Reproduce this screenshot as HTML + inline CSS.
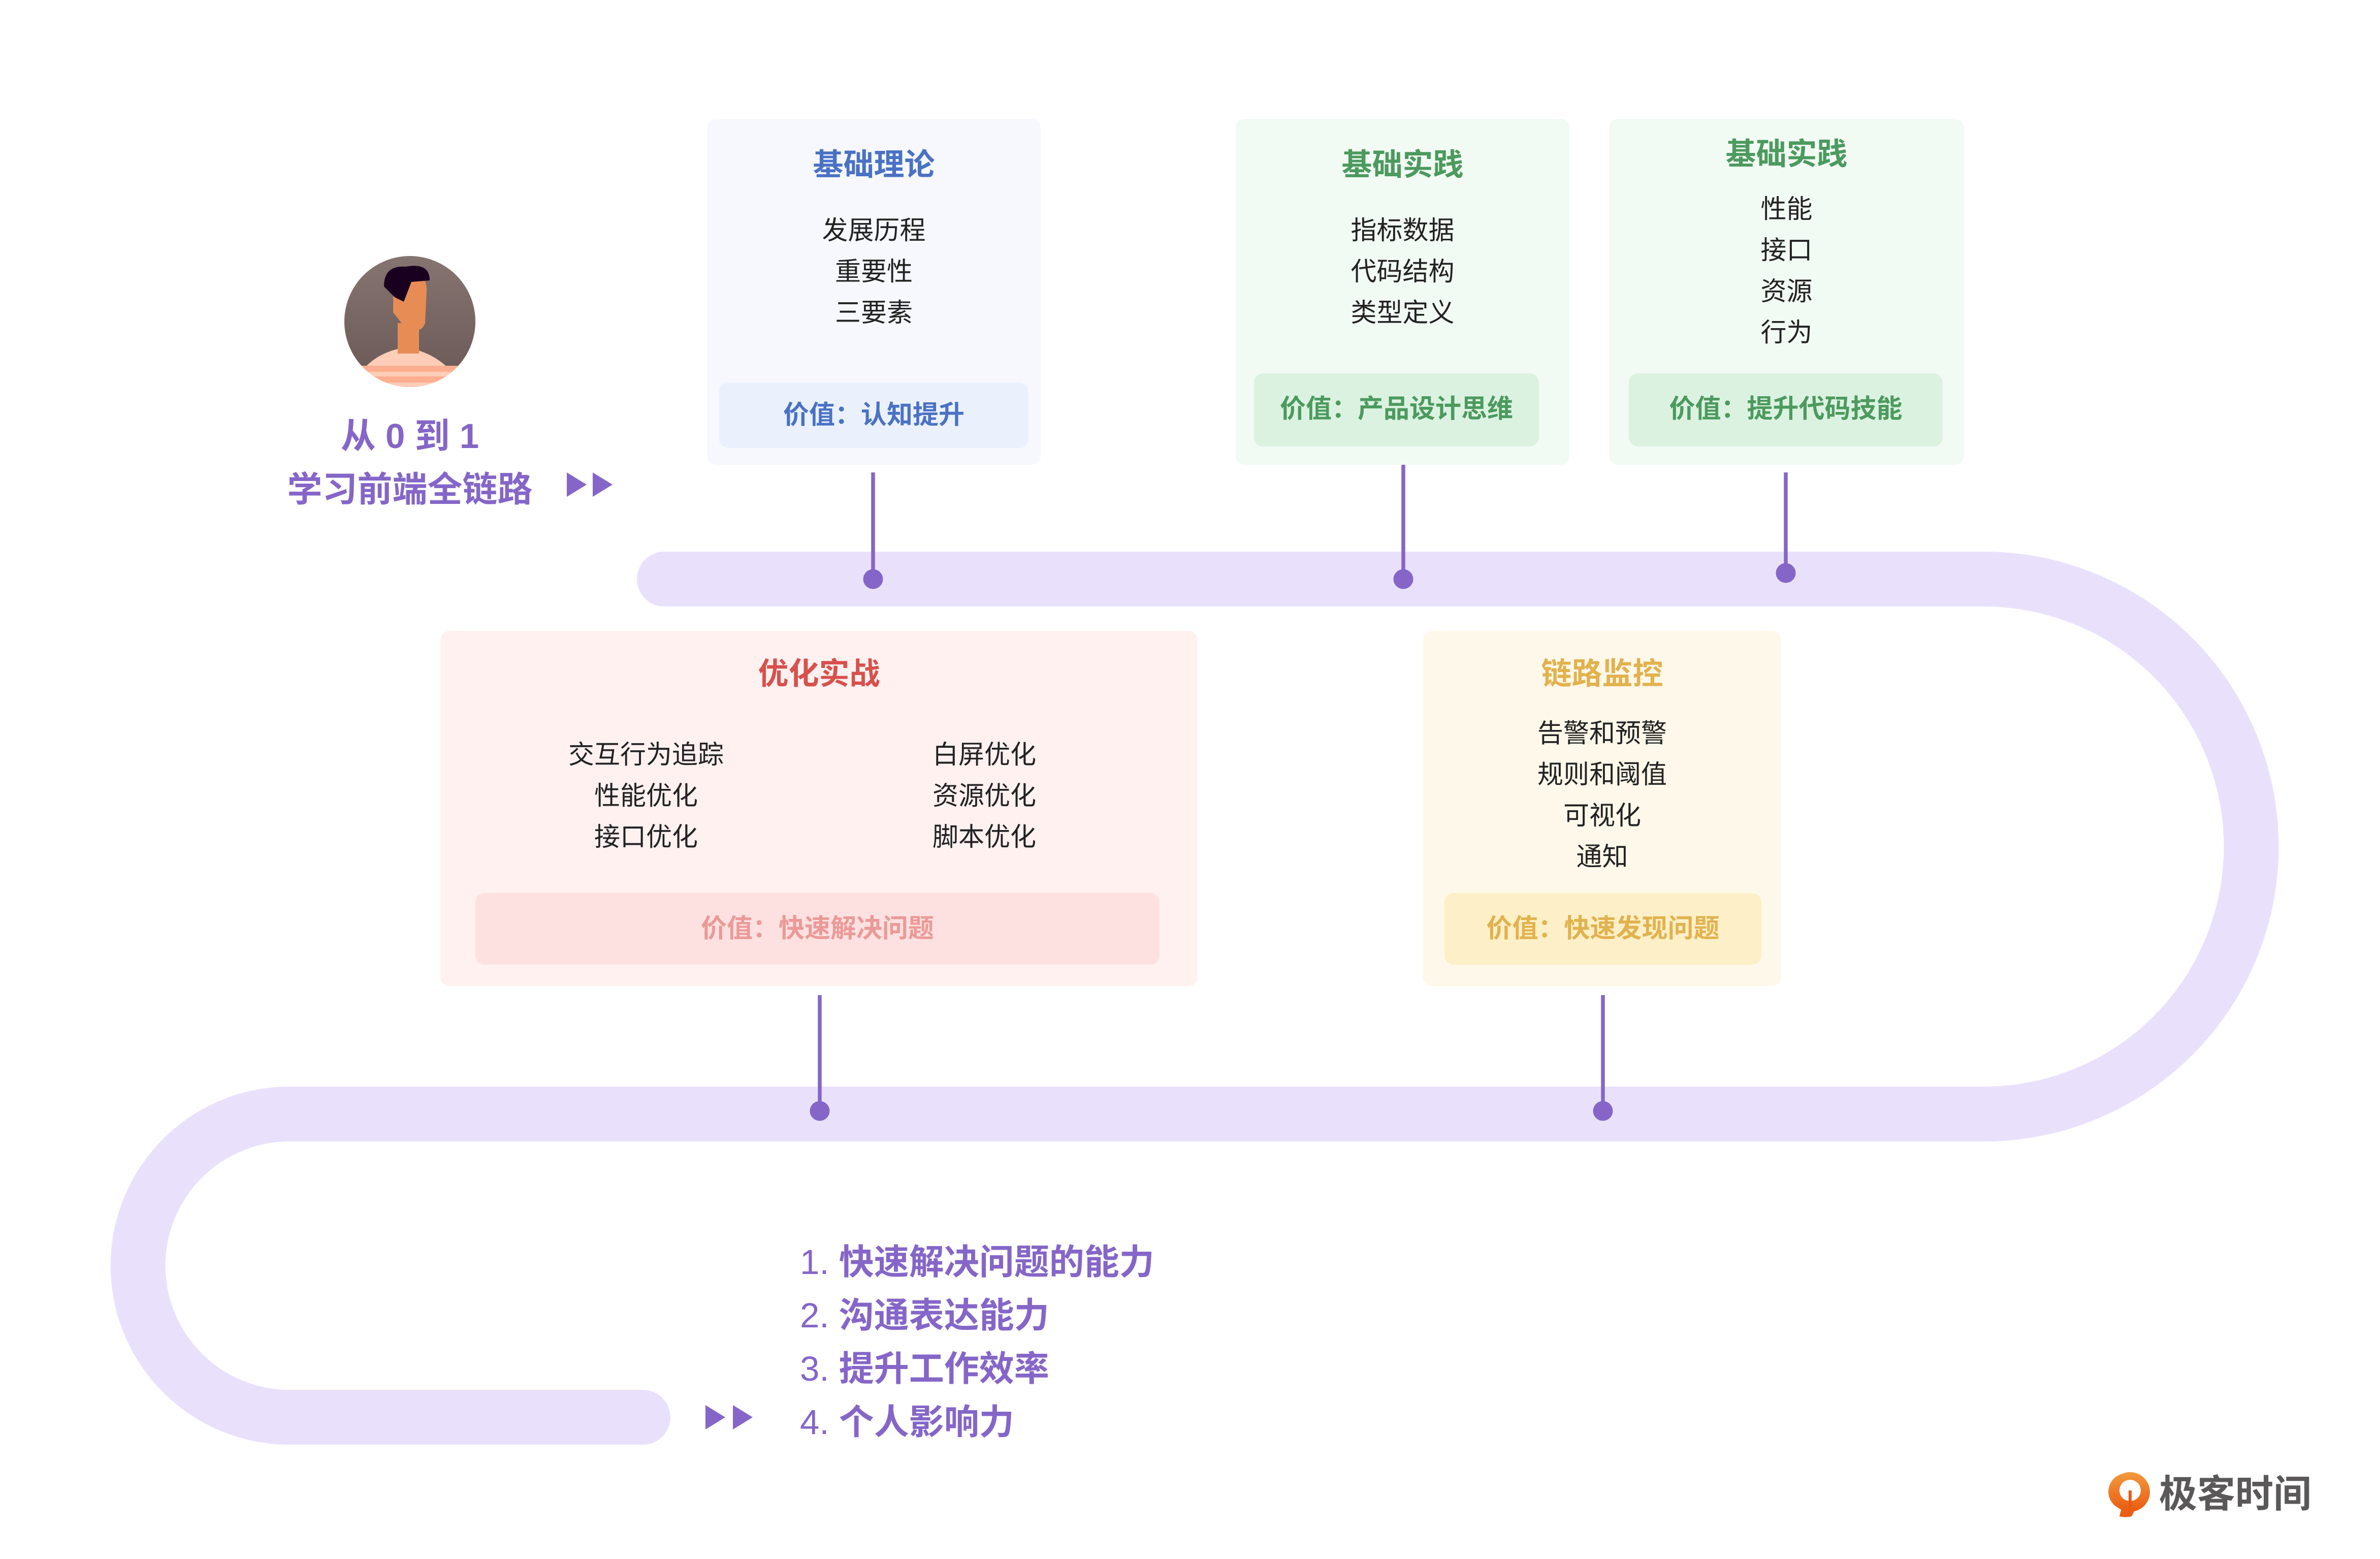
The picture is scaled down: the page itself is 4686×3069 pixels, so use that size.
<!DOCTYPE html>
<html><head><meta charset="utf-8"><style>
html,body{margin:0;padding:0;background:#fff;}
body{width:4686px;height:3068px;overflow:hidden;position:relative;}
#w{position:absolute;left:0;top:0;width:1562px;height:1023px;transform:scale(3);transform-origin:0 0;font-family:"Liberation Sans","Noto Sans CJK SC",sans-serif;}
.a{position:absolute;}
.card{position:absolute;border-radius:6px;}
.t{position:absolute;left:0;right:0;text-align:center;font-weight:bold;font-size:20px;line-height:24px;}
.i{position:absolute;text-align:center;font-size:17px;line-height:27px;color:#222;}
.v{position:absolute;border-radius:6px;text-align:center;font-weight:bold;font-size:17px;}
</style></head><body><div id="w">
<svg class="a" style="left:0;top:0" width="1562" height="1023">
<path d="M436 380 H1302 A175 175 0 0 1 1302 731 H190 A99.5 99.5 0 0 0 190 930 H422" fill="none" stroke="#e9e1fc" stroke-width="36" stroke-linecap="round"/>
<g stroke="#8566c8" stroke-width="2.5">
<line x1="573" y1="310" x2="573" y2="380"/><line x1="921" y1="305" x2="921" y2="380"/><line x1="1172" y1="310" x2="1172" y2="376"/>
<line x1="538" y1="653" x2="538" y2="729"/><line x1="1052" y1="653" x2="1052" y2="729"/></g>
<g fill="#8566c8"><circle cx="573" cy="380" r="6.5"/><circle cx="921" cy="380" r="6.5"/><circle cx="1172" cy="376" r="6.5"/><circle cx="538" cy="729" r="6.5"/><circle cx="1052" cy="729" r="6.5"/>
<path d="M372 310 L385 318 L372 326Z"/><path d="M389 310 L402 318 L389 326Z"/>
<path d="M463 922 L476 930 L463 938Z"/><path d="M481 922 L494 930 L481 938Z"/></g>
<defs><clipPath id="c"><circle cx="269" cy="211" r="43"/></clipPath><linearGradient id="g" x1="0" y1="0" x2="0" y2="1"><stop offset="0" stop-color="#857470"/><stop offset="1" stop-color="#6a5856"/></linearGradient>
<linearGradient id="o" x1="0" y1="0" x2="0" y2="1"><stop offset="0" stop-color="#f29a3e"/><stop offset="1" stop-color="#e95a10"/></linearGradient></defs>
<g clip-path="url(#c)"><rect x="226" y="168" width="86" height="86" fill="url(#g)"/>
<path d="M230 256 Q240 232 266 228 Q292 232 305 256Z" fill="#ffcdb8"/>
<rect x="226" y="240" width="86" height="4" fill="#ffae90"/><rect x="226" y="247" width="86" height="4" fill="#ffae90"/>
<rect x="261" y="212" width="14" height="20" fill="#e88c55"/>
<path d="M258 190 Q258 178 270 180 Q280 180 280 190 L279 212 Q276 220 266 215 L258 205Z" fill="#e88c55"/>
<path d="M252 188 Q252 174 266 175 Q282 172 282 184 L270 185 L265 198 L259 195 Z" fill="#1a0020"/></g>
<path d="M1398 967 a12 12 0 1 0 4 22 l-3 6 a10 6 0 0 1 -8 0Z" fill="url(#o)"/>
<circle cx="1398" cy="979" r="13" fill="url(#o)"/><circle cx="1398" cy="978" r="7" fill="#fff"/><rect x="1397" y="978" width="2" height="12" fill="#e95a10"/>
</svg>
<div class="a" style="left:150px;top:269px;width:238px;text-align:center;color:#8566c8;font-weight:bold;font-size:23px;line-height:35px">从 0 到 1<br>学习前端全链路</div>

<div class="card" style="left:464px;top:78px;width:219px;height:227px;background:#f6f8fe">
<div class="t" style="top:19px;color:#4a72c4">基础理论</div>
<div class="i" style="left:0;right:0;top:60px">发展历程<br>重要性<br>三要素</div>
<div class="v" style="left:8px;top:173px;width:203px;height:43px;line-height:43px;background:#ebf1fc;color:#4a72c4">价值：认知提升</div></div>

<div class="card" style="left:811px;top:78px;width:219px;height:227px;background:#f2faf4">
<div class="t" style="top:19px;color:#4c9a5e">基础实践</div>
<div class="i" style="left:0;right:0;top:60px">指标数据<br>代码结构<br>类型定义</div>
<div class="v" style="left:12px;top:167px;width:187px;height:48px;line-height:48px;background:#dcf2e1;color:#4c9a5e">价值：产品设计思维</div></div>

<div class="card" style="left:1056px;top:78px;width:233px;height:227px;background:#f2faf4">
<div class="t" style="top:12px;color:#4c9a5e">基础实践</div>
<div class="i" style="left:0;right:0;top:46px">性能<br>接口<br>资源<br>行为</div>
<div class="v" style="left:13px;top:167px;width:206px;height:48px;line-height:48px;background:#dcf2e1;color:#4c9a5e">价值：提升代码技能</div></div>

<div class="card" style="left:289px;top:414px;width:497px;height:233px;background:#fef1f0">
<div class="t" style="top:17px;color:#d8504c">优化实战</div>
<div class="i" style="left:35px;width:200px;top:68px">交互行为追踪<br>性能优化<br>接口优化</div>
<div class="i" style="left:257px;width:200px;top:68px">白屏优化<br>资源优化<br>脚本优化</div>
<div class="v" style="left:23px;top:172px;width:449px;height:47px;line-height:47px;background:#fde1e1;color:#eb9a98">价值：快速解决问题</div></div>

<div class="card" style="left:934px;top:414px;width:235px;height:233px;background:#fef8ea">
<div class="t" style="top:17px;color:#e2b24e">链路监控</div>
<div class="i" style="left:0;right:0;top:54px">告警和预警<br>规则和阈值<br>可视化<br>通知</div>
<div class="v" style="left:14px;top:172px;width:208px;height:47px;line-height:47px;background:#fdf0c8;color:#e2b24e">价值：快速发现问题</div></div>

<div class="a" style="left:525px;top:811px;color:#8566c8;font-size:23px;line-height:35px;font-weight:bold">
<span style="font-weight:normal">1.</span> 快速解决问题的能力<br><span style="font-weight:normal">2.</span> 沟通表达能力<br><span style="font-weight:normal">3.</span> 提升工作效率<br><span style="font-weight:normal">4.</span> 个人影响力</div>
<div class="a" style="left:1417px;top:965px;color:#5a5858;font-size:25px;line-height:32px;font-weight:bold">极客时间</div>
</div></body></html>
